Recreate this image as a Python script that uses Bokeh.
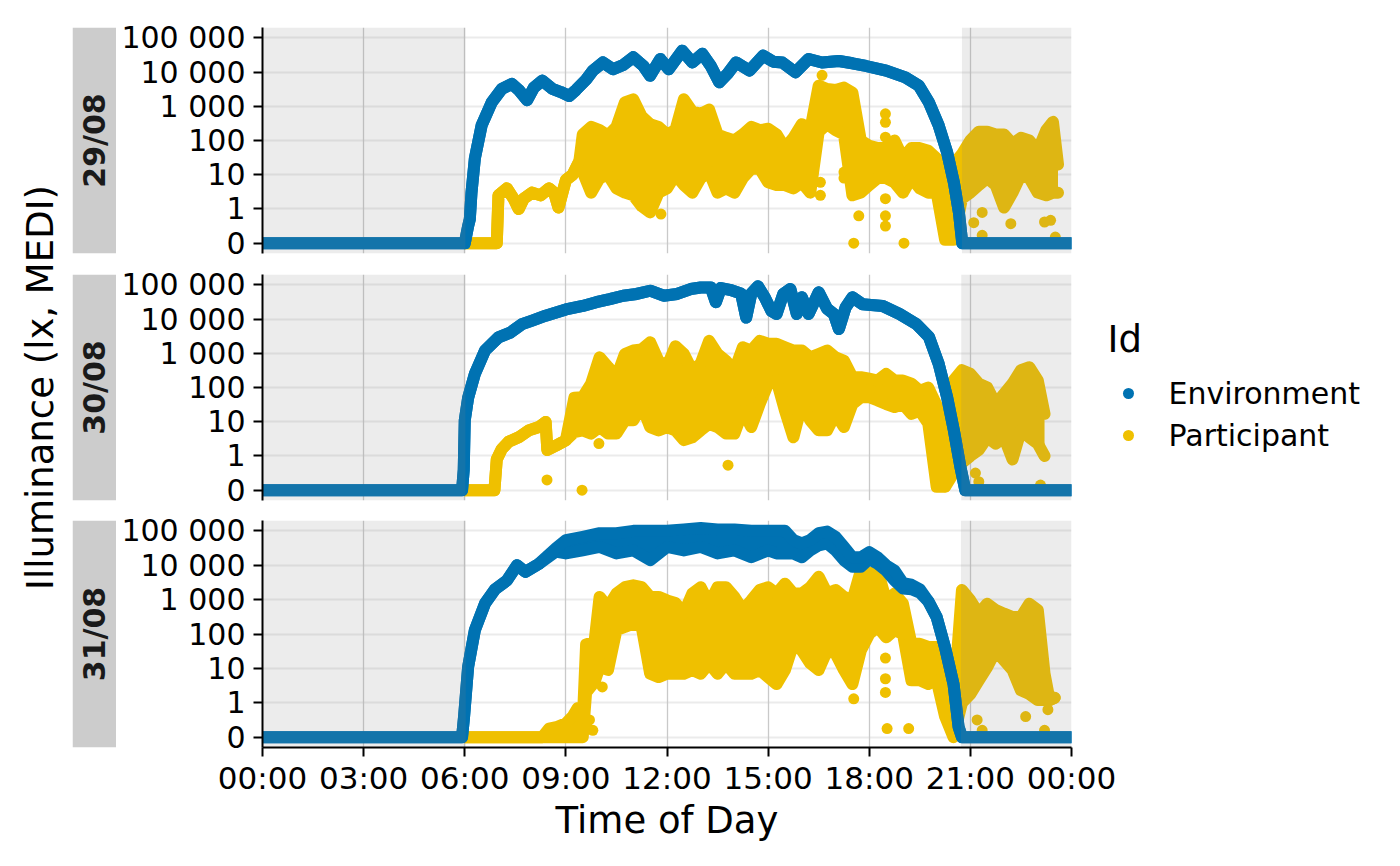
import math
from bokeh.plotting import figure
from bokeh.layouts import row, column
from bokeh.models import Range1d, FixedTicker, Grid
from bokeh.embed import file_html
from bokeh.resources import INLINE
from bokeh.core.properties import value

FONT = "DejaVu Sans"
BLUE = "#0072B2"
YELLOW = "#EFC000"

# ---------------- data ----------------
DATES = ["29/08", "30/08", "31/08"]
DAWN = [6.02, 6.02, 6.03]
DUSK = [20.75, 20.73, 20.72]
SERIES = ["Environment", "Participant"]

X_TICKS = [0, 3, 6, 9, 12, 15, 18, 21, 24]
X_LABELS = ["00:00", "03:00", "06:00", "09:00", "12:00", "15:00", "18:00", "21:00", "00:00"]
Y_TICKS = [0, 1, 2, 3, 4, 5, 6]
Y_LABELS = ["0", "1", "10", "100", "1 000", "10 000", "100 000"]

# Environment (lux)
ENV_T_29 = [0, 6.0, 6.1, 6.15, 6.2, 6.3, 6.5, 6.8, 7.1, 7.4, 7.6, 7.85, 8.05, 8.3, 8.6, 8.85, 9.1, 9.3, 9.6, 9.8,
            10.1, 10.4, 10.7, 11.0, 11.3, 11.5, 11.8, 12.05, 12.45, 12.75, 13.05, 13.3, 13.55, 13.8, 14.05, 14.45,
            14.85, 15.15, 15.42, 15.81, 16.2, 16.6, 17.1, 17.5, 17.9, 18.5, 19.07, 19.47, 19.77, 20.06, 20.31,
            20.51, 20.66, 20.76, 24]
ENV_LUX_29 = [0, 0, 0.5, 0.7, 3, 30, 275, 1300, 3200, 4500, 3000, 1500, 3500, 5600, 3200, 2600, 2000, 3000, 6000, 11000,
              19000, 12000, 16000, 27000, 15000, 7800, 24000, 12000, 42000, 19000, 34000, 15000, 5000, 9000, 19000, 11000,
              30000, 20000, 19000, 9800, 24000, 19000, 21000, 18000, 15000, 11000, 7000, 4000, 1300, 275, 45,
              6, 0.9, 0, 0]

ENV_T_30 = [0, 5.92, 5.97, 6.0, 6.1, 6.3, 6.6, 7.0, 7.35, 7.7, 8.0, 8.4, 9.0, 9.5, 9.9, 10.3, 10.7, 11.1, 11.5, 11.9,
            12.3, 12.7, 13.0, 13.3, 13.45, 13.6, 13.9, 14.2, 14.35, 14.5, 14.7, 14.9, 15.1, 15.25, 15.45, 15.66, 15.85,
            16.0, 16.2, 16.5, 16.75, 16.95, 17.1, 17.3, 17.5, 17.8, 18.4, 18.9, 19.4, 19.77, 20.06, 20.31, 20.51,
            20.7, 20.85, 24]
ENV_LUX_30 = [0, 0, 0.6, 11, 50, 250, 1200, 2900, 4000, 7100, 9000, 12500, 19000, 24000, 31000, 38000, 48000, 54000, 67000, 48000,
              54000, 75000, 83000, 83000, 31000, 80000, 70000, 55000, 11000, 55000, 90000, 43000, 17000, 14000, 54000, 75000, 14000,
              43000, 14000, 60000, 20000, 14000, 5100, 22000, 43000, 27000, 24000, 14000, 7100, 3000, 490, 52, 5.6,
              0.7, 0, 0]

ENV_T_31 = [0, 5.92, 5.98, 6.1, 6.3, 6.6, 6.9, 7.25, 7.55, 7.8, 8.2, 8.7, 9.0, 9.5, 10.0, 10.5, 11.0, 11.5, 12.0, 12.5,
            13.0, 13.5, 14.0, 14.5, 15.0, 15.25, 15.5, 15.75, 16.0, 16.25, 16.5, 16.75, 17.0, 17.25, 17.5, 17.75,
            18.0, 18.25, 18.5, 18.75, 19.0, 19.25, 19.5, 19.75, 20.0, 20.25, 20.5, 20.65, 20.75, 24]
ENV_LO_31 = [0, 0, 0.6, 11, 130, 770, 2000, 3600, 10000, 6400, 11000, 25000, 22000, 27000, 34000, 22000, 27000, 14000, 34000, 27000,
             34000, 22000, 27000, 17000, 27000, 22000, 22000, 22000, 17000, 27000, 38000, 43000, 27000, 14000, 9000, 9000,
             15000, 11000, 7000, 3600, 2100, 2000, 1600, 900, 310, 40, 3.5, 0.3, 0, 0]
ENV_HI_31 = [0, 0, 0.6, 11, 130, 770, 2000, 3600, 10000, 6400, 11000, 31000, 54000, 67000, 85000, 85000, 100000, 100000, 100000, 110000,
             120000, 110000, 110000, 100000, 100000, 100000, 100000, 54000, 43000, 54000, 85000, 95000, 67000, 34000, 17000, 17000,
             24000, 17000, 10000, 7000, 3000, 2700, 2000, 900, 310, 40, 3.5, 0.3, 0, 0]

# Participant (lux): low / high envelope of the dense point cloud
PART_T_29 = [6.0, 6.95, 7.0, 7.25, 7.45, 7.6, 7.75, 8.0, 8.25, 8.5, 8.65, 8.78, 9.0, 9.2, 9.4,
             9.5, 9.75, 10.0, 10.25, 10.5, 10.75, 11.0, 11.25, 11.5, 11.75,
             12.0, 12.25, 12.5, 12.75, 13.0, 13.25, 13.5, 13.75, 14.0, 14.25,
             14.5, 14.75, 15.0, 15.25, 15.5, 15.75, 16.0, 16.25, 16.5, 16.75,
             17.0, 17.25, 17.5, 17.75, 18.0, 18.25, 18.5, 18.75, 19.0, 19.25,
             19.5, 19.75, 20.0, 20.25, 20.5, 20.75, 21.0, 21.25, 21.5, 21.75,
             22.0, 22.25, 22.5, 22.75, 23.0, 23.25, 23.45, 23.6]
PART_LO_29 = [0, 0, 2.5, 4, 2, 1, 2, 3, 2.5, 4, 3, 1.1, 7, 10, 25,
              12, 3, 8, 10, 4, 3, 2.5, 1.2, 0.9, 3,
              4, 10, 5, 3, 8, 12, 3, 4, 3, 8,
              15, 15, 6, 5, 5, 4, 6, 3, 180, 300,
              200, 150, 2.5, 3, 5, 8, 8, 6, 3, 8,
              4, 3, 3, 0.1, 0.1, 2, 3, 5, 8, 5,
              1.1, 3, 10, 8, 3, 2.5, 3, 3]
PART_HI_29 = [0, 0, 2.5, 4, 2, 1, 2, 3, 2.5, 4, 3, 1.1, 7, 10, 25,
              150, 250, 200, 140, 250, 1300, 1600, 500, 300, 250,
              150, 200, 1600, 700, 600, 800, 150, 120, 100, 150,
              250, 200, 220, 150, 60, 120, 300, 200, 4000, 3200,
              3000, 3500, 2500, 100, 70, 60, 60, 100, 30, 60,
              60, 50, 30, 12, 20, 40, 100, 180, 180, 150,
              150, 80, 120, 100, 50, 200, 350, 20]

PART_T_30 = [6.0, 6.88, 6.95, 7.1, 7.3, 7.6, 7.9, 8.2, 8.4, 8.45, 8.7, 9.0, 9.25,
             9.5, 9.75, 10.0, 10.25, 10.5, 10.75, 11.0, 11.25, 11.5, 11.75,
             12.0, 12.25, 12.5, 12.75, 13.0, 13.25, 13.5, 13.75, 14.0, 14.25,
             14.5, 14.75, 15.0, 15.25, 15.5, 15.75, 16.0, 16.25, 16.5, 16.75,
             17.0, 17.25, 17.5, 17.75, 18.0, 18.25, 18.5, 18.75, 19.0, 19.25,
             19.5, 19.75, 20.0, 20.25, 20.5, 20.75, 21.0, 21.25, 21.5, 21.75,
             22.0, 22.25, 22.5, 22.75, 23.0, 23.2]
PART_LO_30 = [0, 0, 0.9, 1.6, 2.6, 3.5, 5.6, 7, 9.8, 1.5, 2, 2.9, 5,
              5.6, 4.5, 7, 4.5, 4.5, 11, 11, 30, 7, 5.6,
              7, 5.6, 2.9, 3.5, 5.6, 8.7, 7, 4.5, 4.5, 21,
              7, 33, 130, 160, 21, 3.5, 33, 11, 5.6, 5.6,
              17, 7, 33, 52, 52, 42, 33, 27, 33, 17,
              21, 9, 0.1, 0.1, 0.5, 0.8, 1, 1.5, 3.5, 2.3,
              3.5, 0.9, 5.6, 3.5, 2.3, 1]
PART_HI_30 = [0, 0, 0.9, 1.6, 2.6, 3.5, 5.6, 7, 9.8, 1.5, 2, 2.9, 50,
              52, 130, 760, 400, 200, 950, 1200, 1300, 2100, 600,
              400, 1600, 950, 310, 500, 2300, 950, 600, 310, 1500,
              1200, 2300, 1900, 1900, 1500, 1200, 1200, 760, 950, 1200,
              760, 600, 200, 200, 180, 160, 250, 160, 160, 130,
              80, 100, 30, 2, 160, 320, 250, 130, 100, 33,
              65, 130, 320, 390, 160, 17]

PART_T_31 = [6.0, 8.3, 8.5, 8.75, 9.0, 9.2, 9.35, 9.5, 9.6, 9.85,
             10.0, 10.25, 10.5, 10.75, 11.0, 11.25, 11.5, 11.75, 12.0, 12.25,
             12.5, 12.75, 13.0, 13.25, 13.5, 13.75, 14.0, 14.25, 14.5, 14.75,
             15.0, 15.25, 15.5, 15.75, 16.0, 16.25, 16.5, 16.75, 17.0, 17.25,
             17.5, 17.75, 18.0, 18.25, 18.5, 18.75, 19.0, 19.25, 19.5, 19.75,
             20.0, 20.25, 20.5, 20.75, 21.0, 21.25, 21.5, 21.75, 22.0, 22.25,
             22.5, 22.75, 23.0, 23.2, 23.35, 23.5]
PART_LO_31 = [0, 0, 0, 0, 0, 0, 0, 0, 2, 4,
              11, 9, 130, 160, 200, 160, 7, 5.6, 7, 7,
              7, 9, 7, 14, 7, 14, 7, 7, 7, 9,
              5.6, 3.5, 9, 52, 33, 14, 9, 33, 27, 9,
              3.5, 33, 100, 160, 80, 130, 100, 4.5, 4.5, 3.5,
              4.5, 0.6, 0, 1, 1.8, 4.5, 11, 33, 17, 9,
              2.3, 1.8, 1.2, 1.2, 1.2, 1.4]
PART_HI_31 = [0, 0, 0.25, 0.3, 0.4, 0.6, 0.85, 0.45, 50, 60,
              1200, 600, 1500, 2300, 2600, 2300, 1200, 1200, 950, 800,
              400, 1500, 2300, 760, 2300, 2300, 1200, 500, 950, 1900,
              2300, 1500, 2900, 1500, 1500, 2300, 4600, 1500, 1900, 1200,
              950, 7000, 5500, 7000, 950, 1500, 760, 52, 52, 42,
              42, 21, 1, 1900, 950, 390, 760, 500, 390, 310,
              310, 760, 500, 7, 1.2, 1.4]

# isolated participant points
ODD_T_29 = [11.42, 11.82, 16.55, 16.55, 16.6, 17.25, 17.25, 17.54, 17.69, 18.48, 18.48, 18.48, 18.48, 18.48, 18.48,
            19.03, 21.1, 21.35, 21.35, 22.2, 23.2, 23.38, 23.52]
ODD_LUX_29 = [1.1, 0.85, 2.5, 6, 8000, 8, 12, 0, 0.8, 600, 340, 125, 2, 0.8, 0.5,
              0, 0.6, 0.9, 0.23, 0.57, 0.62, 0.67, 0.18]
ODD_T_30 = [8.44, 9.48, 9.98, 13.81, 20.26, 21.15, 21.25, 23.08]
ODD_LUX_30 = [0.3, 0, 2.3, 0.73, 0.1, 0.5, 0.25, 0.15]
ODD_T_31 = [9.62, 9.7, 9.8, 10.08, 17.54, 18.48, 18.48, 18.48, 18.53, 19.17, 21.2, 21.35, 22.64, 23.2, 23.3]
ODD_LUX_31 = [0.3, 0.5, 0.2, 2.9, 1.3, 2, 5, 20, 0.25, 0.25, 0.5, 0.2, 0.6, 0.2, 0.8]

DAYS = [
    dict(env_t=ENV_T_29, env_lo=ENV_LUX_29, env_hi=ENV_LUX_29, p_t=PART_T_29, p_lo=PART_LO_29, p_hi=PART_HI_29,
         o_t=ODD_T_29, o_v=ODD_LUX_29),
    dict(env_t=ENV_T_30, env_lo=ENV_LUX_30, env_hi=ENV_LUX_30, p_t=PART_T_30, p_lo=PART_LO_30, p_hi=PART_HI_30,
         o_t=ODD_T_30, o_v=ODD_LUX_30),
    dict(env_t=ENV_T_31, env_lo=ENV_LO_31, env_hi=ENV_HI_31, p_t=PART_T_31, p_lo=PART_LO_31, p_hi=PART_HI_31,
         o_t=ODD_T_31, o_v=ODD_LUX_31),
]

# ---------------- layout constants ----------------
FRAME_W = 809
PANEL_LEFT = 146
PANEL_RIGHT = 20
PANEL_RIGHT_LAST = 70
STRIP_W = 44
YTITLE_W = 72
LEGEND_W = 309
TOTAL_H = 866
# (top border, frame height, bottom border) for each facet
ROWS = [(27, 226, 10), (11, 226, 10), (10, 227, 119)]
Y0, Y1 = -0.3, 6.3
LW = 12
PT = 11


def symlog(v):
    return v if v <= 1 else 1 + math.log10(v)


def draw_band(p, t, lo, hi, color, width=LW):
    ylo = [symlog(v) for v in lo]
    yhi = [symlog(v) for v in hi]
    p.varea(x=t, y1=ylo, y2=yhi, fill_color=color)
    p.line(t, ylo, line_color=color, line_width=width, line_cap="round", line_join="round")
    p.line(t, yhi, line_color=color, line_width=width, line_cap="round", line_join="round")


def style_axis(ax, size):
    ax.axis_line_color = "black"
    ax.axis_line_width = 2
    ax.major_tick_line_color = "black"
    ax.major_tick_line_width = 2
    ax.major_tick_out = 9
    ax.major_tick_in = 0
    ax.minor_tick_line_color = None
    ax.major_label_text_font = FONT
    ax.major_label_text_font_size = size
    ax.major_label_text_color = "black"


def make_panel(i):
    top, fh, bottom = ROWS[i]
    last = i == len(ROWS) - 1
    p = figure(frame_width=FRAME_W, frame_height=fh,
               min_border_left=PANEL_LEFT, min_border_right=PANEL_RIGHT_LAST if last else PANEL_RIGHT,
               min_border_top=top, min_border_bottom=bottom,
               x_range=Range1d(0, 24), y_range=Range1d(Y0, Y1),
               x_axis_location="below" if last else None, y_axis_location="left",
               output_backend="svg", toolbar_location=None, title=None)
    p.outline_line_color = None
    p.background_fill_color = "white"
    p.border_fill_color = "white"
    p.grid.visible = False
    p.add_layout(Grid(dimension=1, ticker=FixedTicker(ticks=Y_TICKS),
                      grid_line_color="#ebebeb", grid_line_width=2.2))
    p.add_layout(Grid(dimension=0, ticker=FixedTicker(ticks=X_TICKS),
                      grid_line_color="#c9c9c9", grid_line_width=1.3))

    ya = p.yaxis[0]
    ya.ticker = FixedTicker(ticks=Y_TICKS)
    ya.major_label_overrides = {t: s for t, s in zip(Y_TICKS, Y_LABELS)}
    style_axis(ya, "30px")
    ya.major_label_standoff = 8

    if last:
        xa = p.xaxis[0]
        xa.ticker = FixedTicker(ticks=X_TICKS)
        xa.major_label_overrides = {t: s for t, s in zip(X_TICKS, X_LABELS)}
        style_axis(xa, "31px")
        xa.major_label_standoff = 3
        xa.axis_label = "Time of Day"
        xa.axis_label_text_font = FONT
        xa.axis_label_text_font_size = "37px"
        xa.axis_label_text_font_style = "normal"
        xa.axis_label_text_color = "black"
        xa.axis_label_standoff = 0

    d = DAYS[i]
    # participant first, environment on top
    draw_band(p, d["p_t"], d["p_lo"], d["p_hi"], YELLOW)
    p.scatter(d["o_t"], [symlog(v) for v in d["o_v"]], size=PT, fill_color=YELLOW, line_color=None)
    draw_band(p, d["env_t"], d["env_lo"], d["env_hi"], BLUE)

    # night shading drawn over the data
    p.quad(left=[0, DUSK[i]], right=[DAWN[i], 24], bottom=Y0, top=Y1,
           fill_color="#808080", fill_alpha=0.15, line_color=None)
    return p


def make_strip(i):
    top, fh, bottom = ROWS[i]
    s = figure(frame_width=STRIP_W, frame_height=fh, min_border_left=0, min_border_right=0,
               min_border_top=top, min_border_bottom=bottom,
               x_range=Range1d(0, 1), y_range=Range1d(0, 1),
               x_axis_location=None, y_axis_location=None,
               output_backend="svg", toolbar_location=None, title=None)
    s.grid.visible = False
    s.outline_line_color = None
    s.border_fill_color = "white"
    s.quad(left=0, right=1, bottom=0, top=1, fill_color="#cccccc", line_color=None)
    s.text(x=[0.5], y=[0.5], text=[DATES[i]], angle=math.pi / 2,
           text_align="center", text_baseline="middle",
           text_font=value(FONT), text_font_style="bold", text_font_size="30px", text_color="#1a1a1a")
    return s


def blank(w, h, xr, yr):
    f = figure(width=w, height=h, min_border=0, x_range=xr, y_range=yr,
               x_axis_location=None, y_axis_location=None,
               output_backend="svg", toolbar_location=None, title=None)
    f.grid.visible = False
    f.outline_line_color = None
    f.border_fill_color = "white"
    f.background_fill_color = "white"
    return f


# y-axis title
yt = blank(YTITLE_W, TOTAL_H, Range1d(0, YTITLE_W), Range1d(TOTAL_H, 0))
panel_mid = (ROWS[0][0] + (TOTAL_H - ROWS[2][2])) / 2
yt.text(x=[40], y=[panel_mid], text=["Illuminance (lx, MEDI)"], angle=math.pi / 2,
        text_align="center", text_baseline="middle",
        text_font=value(FONT), text_font_size="37px", text_color="black")

panels = [make_panel(i) for i in range(3)]
strips = [make_strip(i) for i in range(3)]

# legend beside the two upper facets
upper_h = sum(sum(r) for r in ROWS[:2])
lg = blank(LEGEND_W, upper_h, Range1d(0, LEGEND_W), Range1d(upper_h, 0))
lg.text(x=[16], y=[339], text=["Id"], text_align="left", text_baseline="middle",
        text_font=value(FONT), text_font_size="37px", text_color="black")
lg.scatter(x=[37, 37], y=[393, 435], size=PT, fill_color=[BLUE, YELLOW], line_color=None)
lg.text(x=[77, 77], y=[393, 435], text=SERIES, text_align="left", text_baseline="middle",
        text_font=value(FONT), text_font_size="30px", text_color="black")

right_part = column(row(column(panels[0], panels[1]), lg), panels[2])
layout = row(yt, column(*strips), right_part)

open("out.html", "w").write(file_html(layout, INLINE))
